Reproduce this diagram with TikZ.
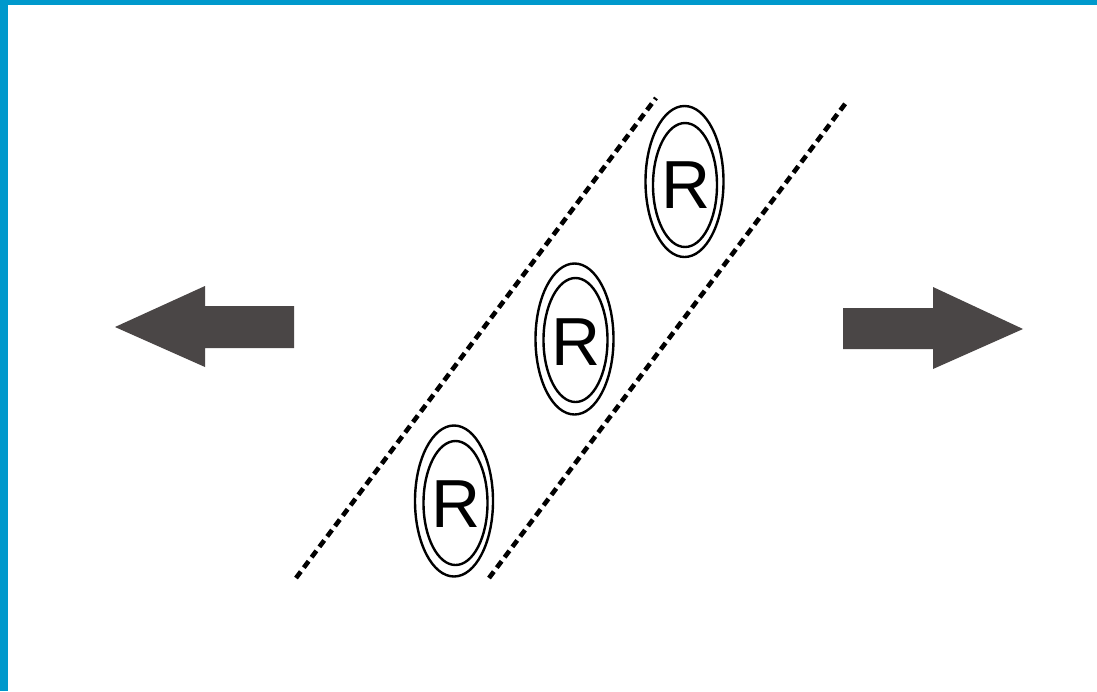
\documentclass[tikz,border=0pt]{standalone}
\usepackage{fontspec}
\setmainfont{Liberation Sans}
\usetikzlibrary{shapes.geometric}
\definecolor{framecol}{HTML}{0099CC}
\definecolor{arrowcol}{HTML}{4A4646}
\tikzset{
  outerring/.style={draw=black, line width=2.4pt, ellipse, minimum width=78pt, minimum height=151pt, inner sep=0pt},
  innerring/.style={draw=black, line width=2.4pt, ellipse, minimum width=64pt, minimum height=124pt, inner sep=0pt},
  rlabel/.style={inner sep=0pt, font=\fontsize{68}{68}\selectfont},
  dashline/.style={line width=4.6pt, dash pattern=on 8pt off 5pt, black},
  bigarrow/.style={fill=arrowcol, draw=none}
}
\begin{document}
\begin{tikzpicture}[x=1pt,y=-1pt]
\useasboundingbox (0,0) rectangle (1097,691);
\fill[white] (0,0) rectangle (1097,691);
% frame
\fill[framecol] (0,0) rectangle (1097,5);
\fill[framecol] (0,0) rectangle (8,691);
% dashed lines
\coordinate (l1) at (296,578);
\coordinate (l2) at (656,98);
\coordinate (r1) at (489,578);
\coordinate (r2) at (848,100);
\draw[dashline] (l1) -- (l2);
\draw[dashline] (r1) -- (r2);
% rings
\node[outerring] (o1) at (684.5,181.5) {};
\node[innerring] (i1) at (685,185) {};
\node[rlabel] (t1) at (686,185) {R};
\node[outerring] (o2) at (574.5,339) {};
\node[innerring] (i2) at (575.5,340) {};
\node[rlabel] (t2) at (576,342) {R};
\node[outerring] (o3) at (454,501) {};
\node[innerring] (i3) at (455.5,503) {};
\node[rlabel] (t3) at (456,504) {R};
% arrows
\fill[bigarrow] (294,306) -- (205,306) -- (205,286) -- (115,327) -- (205,367) -- (205,348) -- (294,348) -- cycle;
\fill[bigarrow] (843,308) -- (933,308) -- (933,287) -- (1023,329) -- (933,369) -- (933,349) -- (843,349) -- cycle;
\end{tikzpicture}
\end{document}
